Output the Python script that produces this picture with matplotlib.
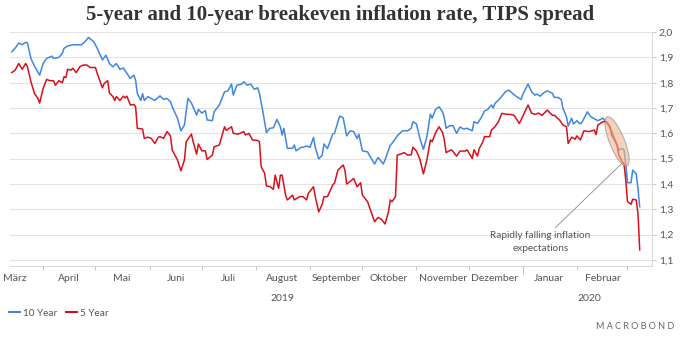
import numpy as np
import matplotlib
matplotlib.use('Agg')
from matplotlib import pyplot as plt
import matplotlib.dates as mdates
from matplotlib import transforms
from matplotlib.patches import Ellipse
from matplotlib.lines import Line2D

plt.rcParams['font.family'] = ['Lato', 'DejaVu Sans']

# day offsets from 1 April 2019 and readings (percent)
start = np.datetime64('2019-04-01')
days_10y = [-18, -16, -14, -12, -10, -9, -7, -5, -2, 0, 2, 5, 6, 9, 11, 12, 14, 17, 19, 22,
            24, 26, 29, 31, 34, 36, 38, 40, 42, 44, 46, 48, 50, 52, 53, 54, 56, 57, 58, 60,
            64, 67, 69, 71, 73, 74, 77, 79, 81, 83, 85, 88, 89, 91, 93, 94, 97, 98, 101, 104,
            106, 108, 109, 111, 114, 115, 117, 119, 121, 123, 124, 126, 128, 130, 132, 134, 136, 137, 138, 140,
            143, 144, 145, 148, 149, 151, 153, 155, 156, 158, 160, 161, 163, 166, 167, 170, 172, 174, 176, 178,
            180, 181, 183, 186, 187, 190, 192, 195, 196, 199, 200, 203, 206, 209, 211, 212, 214, 216, 218, 220,
            222, 223, 225, 227, 229, 230, 231, 233, 235, 237, 239, 241, 243, 246, 247, 249, 251, 253, 255, 256,
            257, 258, 259, 261, 263, 265, 267, 269, 271, 274, 275, 278, 280, 282, 283, 285, 287, 289, 292, 293,
            295, 297, 298, 300, 301, 303, 304, 306, 308, 309, 312, 314, 316, 318, 321, 322, 324, 326, 328, 330,
            332, 333, 334, 335, 337, 338, 340, 341, 342]
ten_year = [1.922, 1.937, 1.957, 1.950, 1.960, 1.957, 1.896, 1.866, 1.830, 1.876, 1.896, 1.905, 1.896, 1.900, 1.916, 1.936, 1.945, 1.950, 1.950, 1.950,
            1.962, 1.979, 1.962, 1.936, 1.890, 1.909, 1.876, 1.863, 1.876, 1.853, 1.858, 1.837, 1.817, 1.830, 1.810, 1.758, 1.730, 1.757, 1.730, 1.745,
            1.730, 1.748, 1.734, 1.738, 1.725, 1.705, 1.660, 1.610, 1.633, 1.738, 1.720, 1.672, 1.695, 1.680, 1.690, 1.653, 1.650, 1.685, 1.712, 1.764,
            1.768, 1.795, 1.751, 1.790, 1.795, 1.804, 1.790, 1.795, 1.774, 1.780, 1.758, 1.685, 1.603, 1.620, 1.622, 1.655, 1.626, 1.593, 1.620, 1.541,
            1.541, 1.554, 1.531, 1.545, 1.545, 1.550, 1.545, 1.584, 1.545, 1.499, 1.514, 1.558, 1.540, 1.597, 1.600, 1.668, 1.662, 1.590, 1.610, 1.607,
            1.580, 1.597, 1.531, 1.527, 1.514, 1.479, 1.505, 1.479, 1.495, 1.554, 1.560, 1.590, 1.610, 1.610, 1.620, 1.646, 1.637, 1.580, 1.537, 1.587,
            1.676, 1.660, 1.695, 1.705, 1.685, 1.660, 1.620, 1.630, 1.630, 1.600, 1.625, 1.617, 1.620, 1.610, 1.646, 1.640, 1.660, 1.688, 1.695, 1.705,
            1.712, 1.700, 1.718, 1.731, 1.747, 1.764, 1.771, 1.758, 1.747, 1.734, 1.754, 1.795, 1.764, 1.751, 1.755, 1.747, 1.760, 1.768, 1.758, 1.742,
            1.742, 1.734, 1.699, 1.666, 1.629, 1.660, 1.637, 1.650, 1.637, 1.645, 1.685, 1.665, 1.658, 1.650, 1.660, 1.650, 1.633, 1.607, 1.574, 1.534,
            1.540, 1.535, 1.479, 1.405, 1.405, 1.455, 1.440, 1.383, 1.310]
days_5y = [-18, -16, -14, -12, -10, -9, -7, -5, -3, -2, 0, 2, 4, 6, 7, 9, 11, 12, 13, 14,
           16, 17, 19, 21, 23, 25, 27, 30, 31, 34, 35, 37, 38, 40, 41, 42, 44, 46, 47, 48,
           50, 52, 53, 54, 57, 58, 60, 62, 64, 66, 67, 69, 71, 73, 74, 77, 79, 81, 82, 85,
           86, 88, 89, 91, 93, 94, 97, 98, 101, 104, 105, 108, 109, 112, 115, 116, 118, 120, 123, 124,
           125, 127, 128, 130, 132, 133, 135, 136, 137, 139, 140, 143, 144, 147, 149, 151, 152, 155, 156, 158,
           160, 161, 163, 166, 167, 169, 172, 173, 174, 176, 178, 180, 182, 183, 186, 188, 190, 192, 194, 196,
           198, 199, 200, 202, 203, 206, 207, 209, 211, 212, 214, 216, 218, 220, 222, 223, 225, 227, 229, 230,
           231, 234, 235, 237, 239, 242, 243, 246, 247, 249, 250, 252, 253, 255, 256, 257, 259, 261, 263, 266,
           268, 270, 273, 275, 278, 280, 282, 284, 286, 289, 292, 293, 296, 298, 300, 301, 303, 305, 306, 308,
           310, 313, 316, 317, 318, 321, 323, 325, 326, 329, 330, 332, 333, 334, 335, 337, 338, 340, 341, 342]
five_year = [1.840, 1.850, 1.876, 1.853, 1.876, 1.863, 1.804, 1.758, 1.738, 1.720, 1.778, 1.813, 1.808, 1.808, 1.790, 1.808, 1.800, 1.824, 1.820, 1.853,
             1.850, 1.857, 1.840, 1.863, 1.870, 1.870, 1.860, 1.860, 1.837, 1.780, 1.797, 1.808, 1.760, 1.745, 1.730, 1.745, 1.730, 1.747, 1.740, 1.747,
             1.712, 1.714, 1.705, 1.620, 1.617, 1.580, 1.585, 1.580, 1.560, 1.585, 1.587, 1.580, 1.607, 1.590, 1.534, 1.495, 1.452, 1.495, 1.567, 1.597,
             1.567, 1.518, 1.558, 1.531, 1.531, 1.497, 1.514, 1.547, 1.554, 1.626, 1.612, 1.626, 1.600, 1.597, 1.607, 1.594, 1.600, 1.574, 1.572, 1.567,
             1.468, 1.442, 1.392, 1.390, 1.379, 1.435, 1.383, 1.435, 1.435, 1.356, 1.337, 1.356, 1.337, 1.350, 1.350, 1.337, 1.363, 1.389, 1.350, 1.290,
             1.320, 1.350, 1.350, 1.396, 1.403, 1.455, 1.475, 1.455, 1.400, 1.410, 1.422, 1.389, 1.405, 1.356, 1.330, 1.290, 1.251, 1.268, 1.260, 1.242,
             1.290, 1.337, 1.330, 1.350, 1.514, 1.521, 1.524, 1.514, 1.515, 1.545, 1.530, 1.497, 1.440, 1.495, 1.574, 1.567, 1.603, 1.626, 1.603, 1.574,
             1.524, 1.535, 1.528, 1.510, 1.530, 1.530, 1.535, 1.501, 1.535, 1.510, 1.540, 1.565, 1.587, 1.587, 1.587, 1.613, 1.626, 1.646, 1.679, 1.675,
             1.675, 1.671, 1.639, 1.668, 1.712, 1.680, 1.675, 1.680, 1.671, 1.692, 1.671, 1.672, 1.653, 1.633, 1.626, 1.560, 1.585, 1.577, 1.590, 1.574,
             1.610, 1.607, 1.613, 1.595, 1.633, 1.646, 1.646, 1.626, 1.593, 1.554, 1.514, 1.488, 1.480, 1.416, 1.330, 1.320, 1.340, 1.337, 1.284, 1.140]

months = ['März', 'April', 'Mai', 'Juni', 'Juli', 'August', 'September',
          'Oktober', 'November', 'Dezember', 'Januar', 'Februar']
years = ['2019', '2020']
yticks = [1.1, 1.2, 1.3, 1.4, 1.5, 1.6, 1.7, 1.8, 1.9, 2.0]

blue = '#3f87e0'
red = '#d9101c'
grey = '#555555'

d10 = start + np.array(days_10y).astype('timedelta64[D]')
d5 = start + np.array(days_5y).astype('timedelta64[D]')

fig = plt.figure(figsize=(6.8, 3.4), dpi=100)
ax = fig.add_axes([0.0147, 0.2176, 0.944, 0.688])

ax.plot(d10, ten_year, color=blue, lw=1.1, label='10 Year', zorder=3)
ax.plot(d5, five_year, color=red, lw=1.1, label='5 Year', zorder=3)

ax.set_ylim(1.076, 2.0)
ax.set_xlim(np.datetime64('2019-03-13'), np.datetime64('2020-03-15'))

# y axis on the right, comma decimals
ax.yaxis.tick_right()
ax.set_yticks(yticks)
ax.set_yticklabels([('%.1f' % v).replace('.', ',') for v in yticks])
ax.grid(axis='y', color='#e3e3e3', lw=0.8)
ax.tick_params(axis='y', length=3, width=0.6, color='#bbbbbb', labelsize=7.5,
               labelcolor=grey, pad=2)

# x axis: ticks at month start, labels mid month
month_starts = np.arange(np.datetime64('2019-04'), np.datetime64('2020-04'), np.timedelta64(1, 'M')).astype('datetime64[D]')
mid = np.arange(np.datetime64('2019-03'), np.datetime64('2020-03'), np.timedelta64(1, 'M')).astype('datetime64[D]') + np.timedelta64(15, 'D')
ax.set_xticks(month_starts)
ax.set_xticklabels([''] * len(month_starts))
ax.set_xticks(mid, minor=True)
ax.set_xticklabels(months, minor=True)
ax.tick_params(axis='x', which='major', length=3, width=0.6, color='#bbbbbb')
ax.tick_params(axis='x', which='minor', length=0, labelsize=7.5, labelcolor=grey, pad=6)
# longer tick at year change
ax.plot([np.datetime64('2020-01-01')] * 2, [0, -0.035], transform=ax.get_xaxis_transform(),
        color='#bbbbbb', lw=0.6, clip_on=False)

yt = transforms.blended_transform_factory(ax.transData, ax.transAxes)
ax.text(np.datetime64('2019-08-16'), -0.12, years[0], transform=yt, ha='center', va='top',
        fontsize=7.5, color=grey)
ax.text(np.datetime64('2020-02-08'), -0.12, years[1], transform=yt, ha='center', va='top',
        fontsize=7.5, color=grey)

for s in ['top', 'left']:
    ax.spines[s].set_visible(False)
for s in ['bottom', 'right']:
    ax.spines[s].set_color('#d0d0d0')
    ax.spines[s].set_linewidth(0.6)

# highlight ellipse around the drop
xc = mdates.date2num(np.datetime64('2020-02-24'))
el_trans = fig.dpi_scale_trans + transforms.ScaledTranslation(xc, 1.568, ax.transData)
ax.add_patch(Ellipse((0, 0), 0.15, 0.53, angle=22, transform=el_trans,
                     facecolor='#f2b48e', alpha=0.6, edgecolor='#888888', lw=0.8, zorder=4))

ax.annotate('Rapidly falling inflation\nexpectations',
            xy=(np.datetime64('2020-02-27'), 1.483),
            xytext=(np.datetime64('2020-01-11'), 1.17),
            ha='center', va='center', fontsize=7.2, color=grey, linespacing=1.5,
            arrowprops=dict(arrowstyle='-', color='#888888', lw=0.6, shrinkA=1, shrinkB=0))

fig.suptitle('5-year and 10-year breakeven inflation rate, TIPS spread', x=0.5, y=0.985,
             fontsize=15, fontweight='bold', family='Liberation Serif', color='#333333')

handles = [Line2D([], [], color=blue, lw=1.5), Line2D([], [], color=red, lw=1.5)]
fig.legend(handles, ['10 Year', '5 Year'], loc='center left', bbox_to_anchor=(0.0, 0.078),
           ncol=2, frameon=False, fontsize=7.2, handlelength=1.1, handletextpad=0.3,
           columnspacing=0.9, labelcolor=grey)

fig.text(0.992, 0.04, 'M A C R O B O N D', ha='right', va='center', fontsize=6.5, color='#666666')

plt.savefig('out.png', dpi=100)
